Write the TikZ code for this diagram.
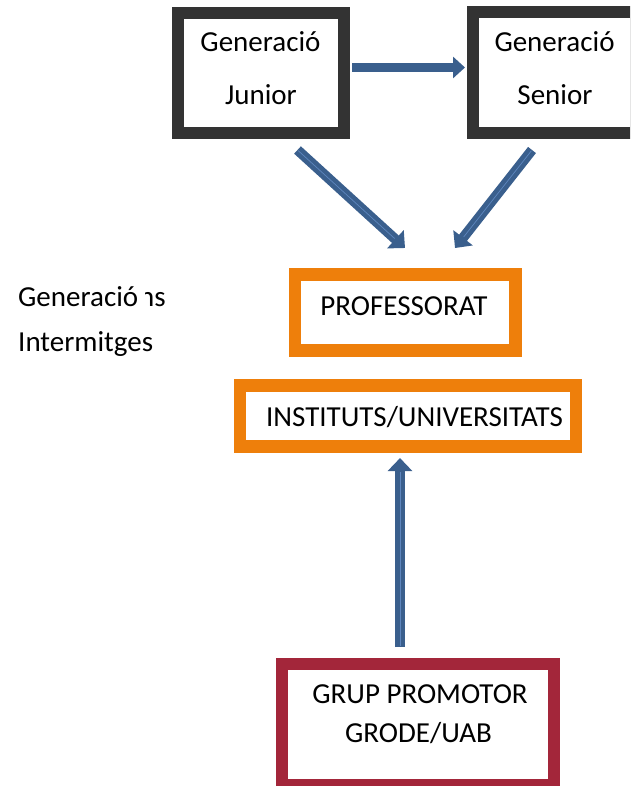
\documentclass[tikz,border=0pt]{standalone}
\usepackage{fontspec}
\setmainfont{Carlito}
\usetikzlibrary{arrows.meta,calc}
\definecolor{dk}{HTML}{333333}
\definecolor{org}{HTML}{EE7F0B}
\definecolor{rd}{HTML}{A3263A}
\definecolor{ab}{HTML}{3A5F8D}
\definecolor{hl}{HTML}{5E86BE}
\begin{document}
\begin{tikzpicture}[x=1pt,y=-1pt,
  dkbox/.style={draw=dk, line width=12pt, outer sep=0pt, inner sep=0pt},
  orbox/.style={draw=org, line width=12.5pt, outer sep=0pt, inner sep=0pt},
  rdbox/.style={draw=rd, line width=12pt, outer sep=0pt, inner sep=0pt},
  txt/.style={font=\fontsize{29}{35}\selectfont, inner sep=0pt, anchor=base},
  blk/.style={draw=ab, line width=#1, -{Triangle[width=24pt,length=13pt]}},
  blk/.default=10pt,
  glint/.style={postaction={draw=hl, line width=0.7pt, -, shorten >=14pt, shorten <=1pt}}]
\useasboundingbox (0,0) rectangle (630,786);
\clip (0,0) rectangle (630,786);
% boxes
\node[dkbox, minimum width=166pt, minimum height=120pt] (jun) at (261,73) {};
\node[dkbox, minimum width=163pt, minimum height=120.5pt] (sen) at (554.5,72.75) {};
\node[orbox, minimum width=220.5pt, minimum height=75.8pt] (prof) at (405,312.4) {};
\node[orbox, minimum width=336pt, minimum height=60.9pt] (inst) at (408,415.8) {};
\node[rdbox, minimum width=272.5pt, minimum height=121pt] (grup) at (418,724.5) {};
% texts
\node[txt] (junA) at (260.5,52) {Generació};
\node[txt] (junB) at (261,105) {Junior};
\node[txt] (senA) at (554.5,52) {Generació};
\node[txt] (senB) at (555,105) {Senior};
\node[txt] (profT) at (404,315) {PROFESSORAT};
\node[txt] (instT) at (414.5,426.7) {INSTITUTS/UNIVERSITATS};
\node[txt] (grupA) at (420,703) {GRUP PROMOTOR};
\node[txt] (grupB) at (418.5,742) {GRODE/UAB};
\node[txt, anchor=base west] (genA) at (18,306.7) {Generació};
\begin{scope}
\clip (145,275) rectangle (200,320);
\node[txt, anchor=base east] (genN) at (166,306.7) {ns};
\end{scope}
\node[txt, anchor=base west] (genB) at (18,351.7) {Intermitges};
% arrows
\draw[blk=8.5pt, -{Triangle[width=21pt,length=12pt]}] ($(jun.east)+(8,-5.5)$) -- ($(sen.west)+(-8,-5.25)$);
\draw[blk, glint] ($(jun.south)+(36.5,17)$) -- ($(prof.north)+(0,-26.5)$);
\draw[blk, glint] ($(sen.south)+(-22.5,17)$) -- ($(prof.north)+(50,-26.5)$);
\draw[blk, glint] ($(grup.north)+(-18,-17)$) -- ($(inst.south)+(-8,11.8)$);
\end{tikzpicture}
\end{document}
